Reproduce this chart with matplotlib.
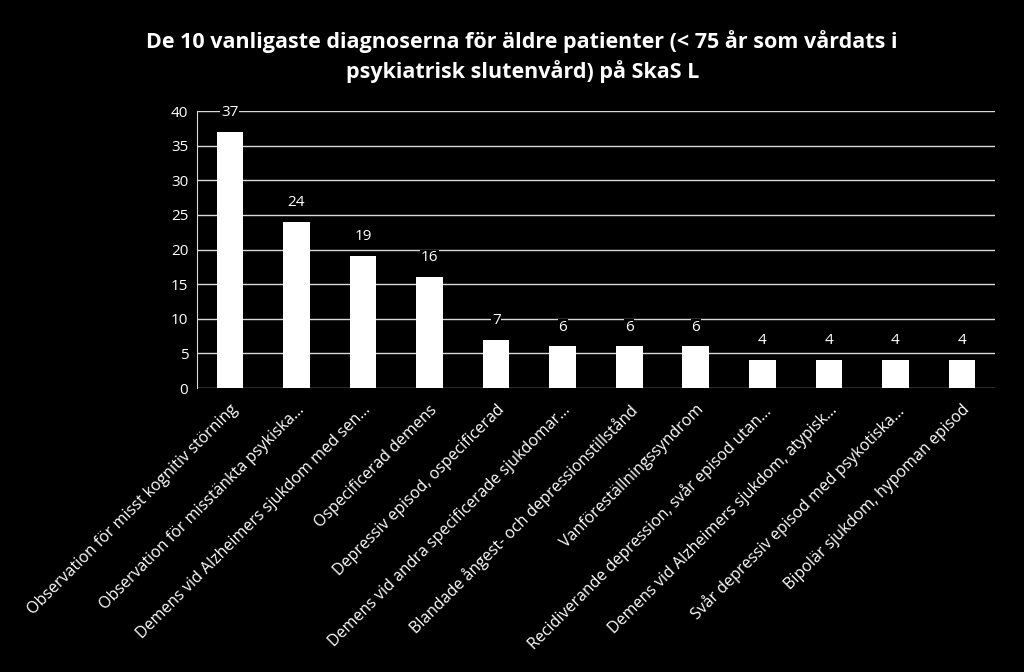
import matplotlib
matplotlib.use("Agg")
import matplotlib.pyplot as plt

categories = [
    "Observation för misst kognitiv störning",
    "Observation för misstänkta psykiska...",
    "Demens vid Alzheimers sjukdom med sen...",
    "Ospecificerad demens",
    "Depressiv episod, ospecificerad",
    "Demens vid andra specificerade sjukdomar...",
    "Blandade ångest- och depressionstillstånd",
    "Vanföreställningssyndrom",
    "Recidiverande depression, svår episod utan...",
    "Demens vid Alzheimers sjukdom, atypisk...",
    "Svår depressiv episod med psykotiska...",
    "Bipolär sjukdom, hypoman episod",
]
values = [37, 24, 19, 16, 7, 6, 6, 6, 4, 4, 4, 4]
yticks = [0, 5, 10, 15, 20, 25, 30, 35, 40]
title = "De 10 vanligaste diagnoserna för äldre patienter (< 75 år som vårdats i\npsykiatrisk slutenvård) på SkaS L"

plt.rcParams['font.family'] = ['Open Sans', 'DejaVu Sans']

fig = plt.figure(figsize=(10.24, 6.72), dpi=100, facecolor='black')
ax = fig.add_axes([0.192, 0.4226, 0.78, 0.4122], facecolor='black')

x = list(range(len(values)))
ax.bar(x, values, width=0.4, color='white', zorder=3)
for xi, v in zip(x, values):
    ax.annotate(str(v), (xi, v), xytext=(0, 14), textcoords='offset points',
                ha='center', va='center', color='white', fontsize=11, zorder=5,
                bbox=dict(boxstyle='square,pad=0.05', fc='black', ec='none'))

ax.set_xlim(-0.5, len(values) - 0.5)
ax.set_ylim(0, 40)
ax.set_yticks(yticks)
ax.yaxis.grid(True, color='#d9d9d9', linewidth=1, zorder=0)
ax.set_xticks(x)
ax.set_xticklabels(categories, rotation=45, ha='right', rotation_mode='anchor', color='white', fontsize=11.5)
ax.tick_params(axis='x', length=0, pad=10)
ax.tick_params(axis='y', colors='white', labelsize=11, length=0, pad=6)
for s in ['top', 'right', 'bottom']:
    ax.spines[s].set_visible(False)
ax.spines['left'].set_color('#d9d9d9')

fig.text(0.51, 0.955, title, ha='center', va='top', color='white', fontsize=15.5, fontweight='bold', linespacing=1.4)

fig.savefig("out.png", dpi=100, facecolor='black')
